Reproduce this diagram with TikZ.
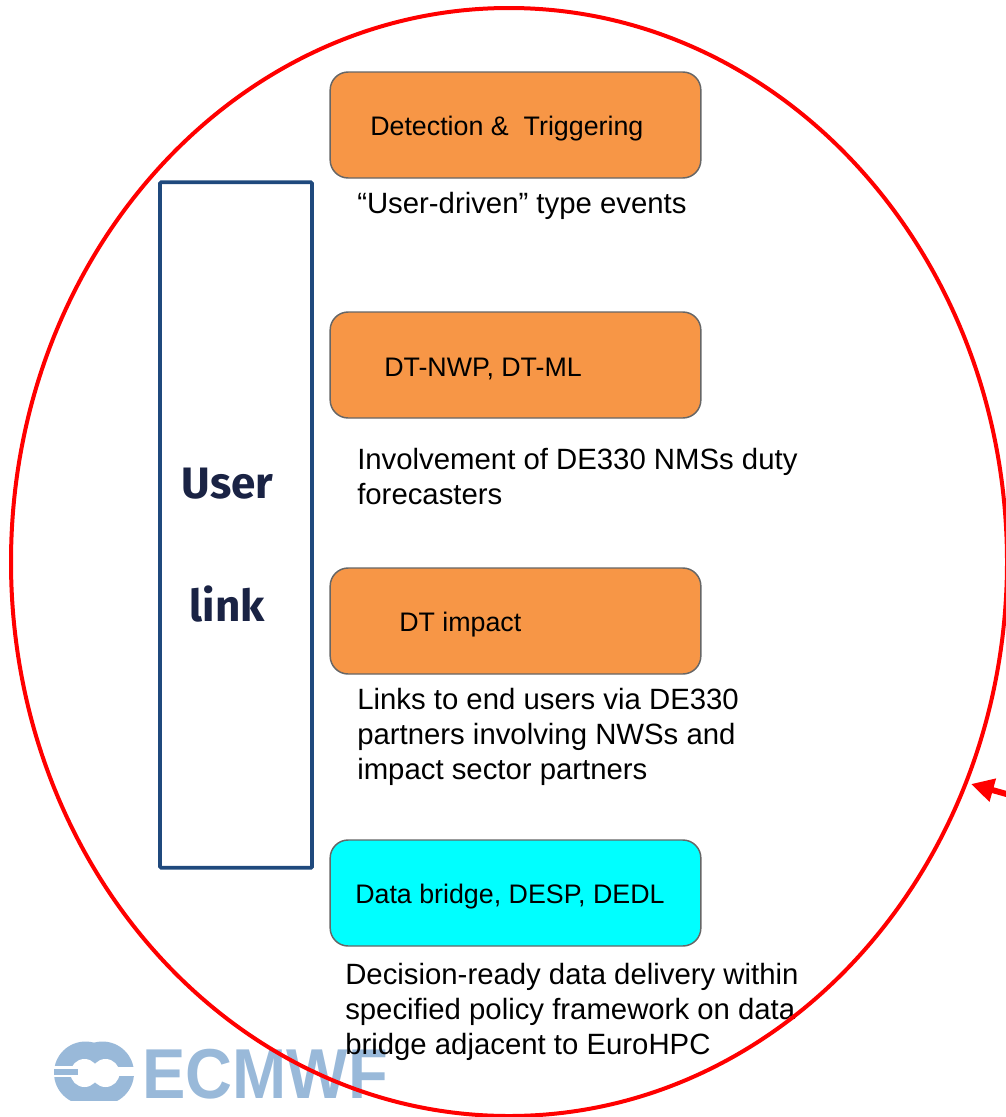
\documentclass[tikz,border=0pt]{standalone}
\usepackage{fontspec}
\setmainfont{Liberation Sans}
\newfontfamily\linkfont{Fira Sans}
\usepackage{tikz}
\usetikzlibrary{arrows.meta}

\definecolor{boxorange}{HTML}{F79646}
\definecolor{boxcyan}{HTML}{00FFFF}
\definecolor{boxgray}{HTML}{666666}
\definecolor{linkblue}{HTML}{1F497D}
\definecolor{linkink}{HTML}{1A2344}
\definecolor{logoblue}{HTML}{99B9D9}

\tikzset{
	taskbox/.style={shape=rectangle,rounded corners=13.5pt,draw=boxgray,line width=1.1pt,minimum width=278pt,minimum height=79.5pt,inner sep=0pt},
	boxtext/.style={anchor=west,inner sep=0pt,font=\fontsize{20.1}{23}\selectfont},
	notetext/.style={anchor=north west,inner sep=0pt,align=left,font=\fontsize{22}{26.2}\selectfont},
	linktext/.style={inner sep=0pt,text=linkink,font=\linkfont\bfseries\fontsize{33}{40}\selectfont},
}

\begin{document}
\begin{tikzpicture}[x=0.75pt,y=-0.75pt]

	\useasboundingbox (0,0) rectangle (1006,1117);

	% logo
	\fill[logoblue] (85.5,1073) circle (31.5);
	\fill[logoblue] (102.5,1073) circle (31.5);
	\fill[white] (84.5,1073) circle (14);
	\fill[white] (105.5,1073) circle (14);
	\fill[white] (105,1066.5) rectangle (136,1076);
	\fill[white] (50,1066) rectangle (85,1077);
	\fill[logoblue] (54,1068.5) rectangle (78,1075);
	\fill[white] (50,1100.5) rectangle (140,1107);
	\node[inner sep=0pt,anchor=base west,xscale=.92,text=logoblue,font=\bfseries\fontsize{53}{60}\selectfont] (logo) at (142,1098) {ECMWF};

	% boxes
	\node[taskbox,fill=boxorange] (detect) at (515.5,125) {};
	\node[taskbox,fill=boxorange] (models) at (515.5,365) {};
	\node[taskbox,fill=boxorange] (impact) at (515.5,621) {};
	\node[taskbox,fill=boxcyan] (bridge) at (515.5,893) {};

	\node[boxtext] (detecttext) at (370,129) {Detection \&\ \ Triggering};
	\node[boxtext] (modelstext) at (384,369) {DT-NWP, DT-ML};
	\node[boxtext] (impacttext) at (399,625) {DT impact};
	\node[boxtext] (bridgetext) at (355,897) {Data bridge, DESP, DEDL};

	\node[notetext] (detectnote) at (357,192) {“User-driven” type events};
	\node[notetext] (modelsnote) at (357,448) {Involvement of DE330 NMSs duty\\forecasters};
	\node[notetext] (impactnote) at (357,688) {Links to end users via DE330\\partners involving NWSs and\\impact sector partners};
	\node[notetext] (bridgenote) at (345,963) {Decision-ready data delivery within\\specified policy framework on data\\bridge adjacent to EuroHPC};

	% user link
	\node[shape=rectangle,draw=linkblue,line width=2.8pt,rounded corners=0.8pt,minimum width=114pt,minimum height=514pt,inner sep=0pt] (userlink) at (236,525) {};
	\node[linktext] (user) at (227.5,484) {User};
	\node[linktext] (link) at (227.5,604) {link};

	% red outline
	\draw[red,line width=3pt] (509,562) ellipse (498 and 554);
	\coordinate (arrowend) at (1010,795);
	\coordinate (arrowtip) at (971,784);
	\draw[red,line width=4.5pt,-{Triangle[length=17pt,width=17pt]}] (arrowend) -- (arrowtip);

\end{tikzpicture}
\end{document}
